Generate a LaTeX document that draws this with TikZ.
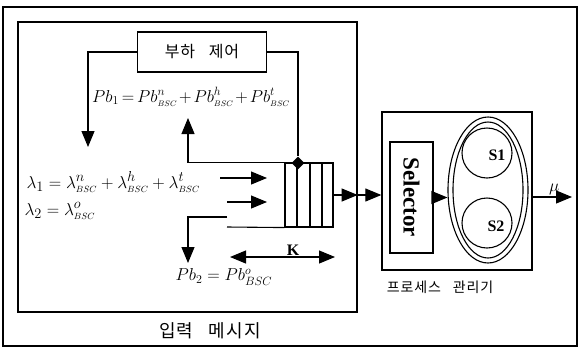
\documentclass[tikz,border=0pt]{standalone}
\usepackage{fontspec}
\setmainfont{Liberation Serif}
\newfontfamily\kor[WordSpace=3,LetterSpace=6]{Noto Sans CJK KR}
\usetikzlibrary{arrows.meta,positioning,shapes.geometric}
\newcommand{\bsc}{{\scriptscriptstyle BSC}}

\begin{document}
\begin{tikzpicture}[x=1pt,y=-1pt,line width=1.1pt,
    tip/.style={-{Triangle[length=16pt,width=13pt]}},
    twotip/.style={{Triangle[length=16pt,width=13pt]}-{Triangle[length=16pt,width=13pt]}},
    frame/.style={draw,line width=1.3pt},
    hangul/.style={font=\kor\fontsize{#1}{#1}\selectfont},
    formula/.style={font=\fontsize{#1}{#1}\selectfont,inner sep=0pt}]
    \useasboundingbox (0,0) rectangle (580,349);
    \draw[frame] (3,7) rectangle (577,346);
    % input message part
    \node[frame,minimum width=339pt,minimum height=290pt]
      (inp) at (187.5,167) {};
    \node[hangul=18] (inpl) at (210,331) {입력 메시지};
    \node[draw,line width=1.8pt,minimum width=129pt,minimum height=40pt,hangul=16]
      (ctl) at (202,52) {부하 제어};
    \node[draw,minimum width=48pt,minimum height=64pt]
      (que) at (309,195) {};
    \foreach \x in {297,310,322}
      \draw (\x,163) -- (\x,227);
    \node[diamond,fill,inner sep=0pt,minimum size=13pt]
      (dia) at (298,163) {};
    \coordinate (fbl) at (88,147);
    \coordinate (upt) at (188,118);
    \coordinate (dns) at (227,217);
    \coordinate (dnt) at (188,263);
    \coordinate (qbl) at (227,227);
    \coordinate (in1) at (220,178);
    \coordinate (in1t) at (267,178);
    \coordinate (in2) at (227,202);
    \coordinate (in2t) at (267,202);
    \draw[tip] (ctl.west) -| (fbl);
    \draw (ctl.east) -| (dia.north);
    \draw[tip] (que.north west) -| (upt);
    \draw[tip] (dns) -| (dnt);
    \draw (qbl) -- (que.south west);
    \draw[tip] (in1) -- (in1t);
    \draw[tip] (in2) -- (in2t);
    \node[formula=17] (pb1) at (191,97)
      {$\medmuskip=2mu\thickmuskip=3mu Pb_1 = Pb^n_\bsc + Pb^h_\bsc + Pb^t_\bsc$};
    \node[formula=19,anchor=west] (lam1) at (26,182)
      {$\lambda_1 = \lambda^n_\bsc + \lambda^h_\bsc + \lambda^t_\bsc$};
    \node[formula=19,anchor=west] (lam2) at (24,211)
      {$\lambda_2 = \lambda^o_\bsc$};
    \node[formula=17] (pb2) at (224,277)
      {$Pb_2 = Pb^o_{BSC}$};
    \coordinate (kl) at (230,257);
    \coordinate (kr) at (335,257);
    \draw[twotip] (kl) -- (kr)
      node[pos=0.6,above,inner sep=1pt,font=\bfseries\fontsize{16}{16}\selectfont]{K};
    % process manager
    \node[frame,minimum width=150pt,minimum height=158pt]
      (proc) at (457,191) {};
    \node[hangul=14] (procl) at (440,287) {프로세스 관리기};
    \coordinate (gate) at (inp.east |- que.east);
    \draw[tip] (que.east) -- (gate);
    \draw[tip] (gate) -- (proc.west |- gate);
    \node[draw,minimum width=43pt,minimum height=111pt]
      (sel) at (411.5,197.5) {};
    \node[rotate=-90,font=\bfseries\fontsize{23}{23}\selectfont]
      (selt) at (sel.center) {Selector};
    \node[ellipse,draw,minimum width=80pt,minimum height=146pt]
      (pool) at (488,190) {};
    \node[ellipse,draw,minimum width=70pt,minimum height=136pt]
      (pooli) at (488,190) {};
    \draw[tip] (sel.east) -- (pool.west |- sel.east);
    \node[circle,draw,minimum size=50pt] (s1) at (487,153) {};
    \node[circle,draw,minimum size=50pt] (s2) at (487,223) {};
    \node[font=\bfseries\fontsize{16}{16}\selectfont] (s1l) at (497,155) {S1};
    \node[font=\bfseries\fontsize{16}{16}\selectfont] (s2l) at (496,226) {S2};
    \coordinate (out) at (572,197);
    \draw[tip] (proc.east |- out) -- (out)
      node[pos=0.55,above,inner sep=2pt,font=\fontsize{17}{17}\selectfont]{$\mu$};
\end{tikzpicture}
\end{document}
